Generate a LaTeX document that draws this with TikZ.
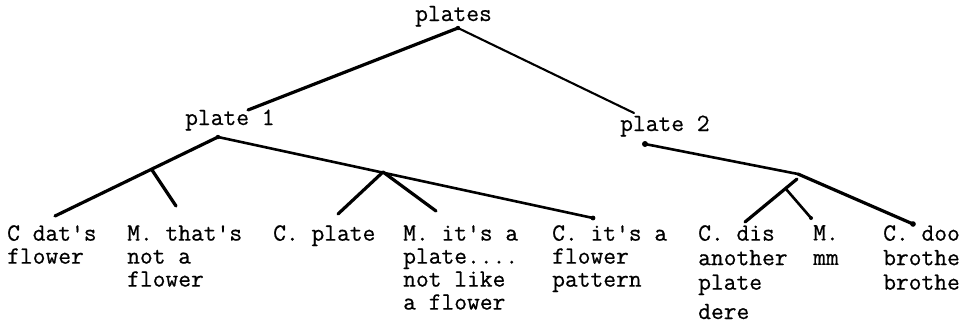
\documentclass[tikz,border=0pt]{standalone}
\usepackage{fontspec}
\setmonofont[FakeBold=0.6]{Latin Modern Mono}
\begin{document}
\begin{tikzpicture}[x=1pt,y=-1pt,
  lbl/.style={anchor=base west,inner sep=0pt,font=\ttfamily\fontsize{24.8}{23}\selectfont},
  blk/.style={anchor=north west,inner sep=0pt,align=left,font=\ttfamily\fontsize{24.8}{23}\selectfont},
  blkwide/.style={blk,font=\ttfamily\fontsize{24.8}{24.5}\selectfont},
  br/.style={line width=3.2pt,line cap=round},
  brthin/.style={line width=2.6pt,line cap=round},
  hair/.style={line width=2.1pt,line cap=round},
  pen/.style={fill=black}]
\useasboundingbox (0,0) rectangle (965,325);
% labels
\node[lbl] (plates) at (415,21) {plates};
\node[lbl] (plateA) at (185,125) {plate 1};
\node[lbl] (plateB) at (620,131) {plate 2};
\node[blk] (t1) at (7,225) {C dat's\\flower};
\node[blk] (t2) at (127,225) {M. that's\\not a\\flower};
\node[blk] (t3) at (273,225) {C. plate};
\node[blk] (t4) at (403,225) {M. it's a\\plate....\\not like\\a flower};
\node[blk] (t5) at (552,225) {C. it's a\\flower\\pattern};
\node[blkwide] (t6) at (698,225) {C. dis\\another\\plate};
\node[lbl] (t6b) at (698,319) {dere};
\node[blkwide] (t7) at (813,225) {M.\\mm};
\node[blkwide] (t8) at (883,225) {C. doo\\brothe\\brothe};
% junction points
\coordinate (r0) at (458,28);
\coordinate (r1) at (248,110);
\coordinate (r2) at (634,113);
\coordinate (a) at (218,137);
\coordinate (aL) at (55,216);
\coordinate (aJ) at (152,170);
\coordinate (aJe) at (176,206);
\coordinate (aR) at (593,218);
\coordinate (bJ) at (383,172);
\coordinate (bL) at (338,214);
\coordinate (bR) at (436,211);
\coordinate (c) at (645,144);
\coordinate (cJ) at (798,174);
\coordinate (cR) at (913,224);
\coordinate (cB0) at (797,179);
\coordinate (cBL) at (745,222);
\coordinate (cBJ) at (786,189);
\coordinate (cBR) at (811,218);
% branches
\draw[br] (r1) -- (r0);
\draw[hair] (r0) -- (r2);
\draw[br] (aL) -- (a);
\draw[br] (aJ) -- (aJe);
\draw[brthin] (a) -- (aR);
\draw[br] (bJ) -- (bL);
\draw[br] (bJ) -- (bR);
\draw[brthin] (c) -- (cJ);
\draw[br] (cJ) -- (cR);
\draw[br] (cB0) -- (cBL);
\draw[brthin] (cBJ) -- (cBR);
\fill[pen] (c) circle (3);
\fill[pen] (cR) circle (2.8);
\fill[pen] (aR) circle (2.4);
\fill[pen] (cBR) circle (2);
\fill[pen] (r0) circle (2.2);
\fill[pen] (a) circle (2.2);
\end{tikzpicture}
\end{document}
